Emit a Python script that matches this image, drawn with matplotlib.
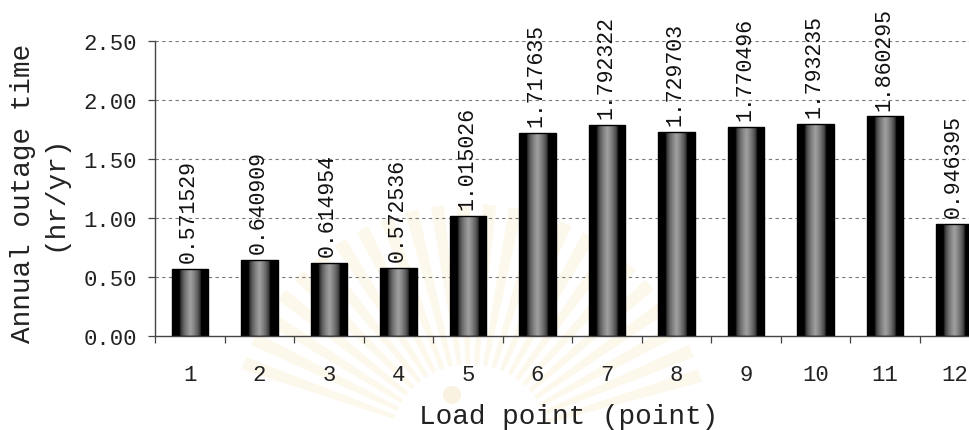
import numpy as np
import matplotlib
matplotlib.use("Agg")
import matplotlib.pyplot as plt
from matplotlib.patches import Wedge, Circle

# Annual outage time per load point
load_points = ["1", "2", "3", "4", "5", "6", "7", "8", "9", "10", "11", "12"]
outage_time = [0.571529, 0.640909, 0.614954, 0.572536, 1.015026, 1.717635,
               1.792322, 1.729703, 1.770496, 1.793235, 1.860295, 0.946395]
y_ticks = [0.0, 0.5, 1.0, 1.5, 2.0, 2.5]

mono = "Liberation Mono"
plt.rcParams["font.family"] = [mono, "DejaVu Sans Mono"]

W, H = 969, 431
fig = plt.figure(figsize=(W / 100, H / 100), dpi=100)
fig.patch.set_facecolor("white")

# faint emblem printed on the page, behind the chart
bg = fig.add_axes([0, 0, 1, 1], zorder=-10)
bg.set_xlim(0, W)
bg.set_ylim(0, H)
bg.axis("off")
cx, cy = 470, H - 445
n_rays = 24
for i in range(n_rays):
    th1 = 15 + i * (150 / n_rays)
    th2 = th1 + (150 / n_rays) * 0.5
    bg.add_patch(Wedge((cx, cy), 240, th1, th2, width=160,
                       facecolor="#fdf8ec", edgecolor="none"))
bg.add_patch(Circle((452, H - 396), 9, facecolor="#faf2e0", edgecolor="none"))

ax_left, ax_bottom = 155.25, 94
ax_w, ax_h = 12 * 69.5, 295
ax = fig.add_axes([ax_left / W, ax_bottom / H, ax_w / W, ax_h / H])
ax.set_facecolor("none")
ax.set_xlim(0.5, 12.5)
ax.set_ylim(0, 2.5)

x = np.arange(1, len(outage_time) + 1)
bars = ax.bar(x, outage_time, width=0.52, color="none", edgecolor="black",
              linewidth=1.0, zorder=3)

# cylindrical shading inside each bar
u = np.linspace(0, 1, 200)
t = np.abs(u - 0.5) / 0.5
shade = 0.63 * np.clip(1 - t / 0.58, 0, 1) ** 0.5
grad = np.tile(shade, (2, 1))
for b in bars:
    x0, y0 = b.get_x(), b.get_y()
    im = ax.imshow(grad, cmap="gray", vmin=0, vmax=1, aspect="auto",
                   extent=[x0, x0 + b.get_width(), y0, y0 + b.get_height()],
                   interpolation="bilinear", zorder=2)
    im.set_clip_path(b)

for xi, v in zip(x, outage_time):
    ax.annotate(f"{v:.6f}", (xi, v), xytext=(-1, 5), textcoords="offset points",
                rotation=90, ha="center", va="bottom", fontsize=15.5,
                family=mono, color="#111111", zorder=4, annotation_clip=False)

# grid
for yv in y_ticks[1:]:
    ax.axhline(yv, color="#7a7a7a", linewidth=0.8, linestyle=(0, (3, 3)), zorder=1)

for s in ["top", "right"]:
    ax.spines[s].set_visible(False)
for s in ["left", "bottom"]:
    ax.spines[s].set_color("#444444")
    ax.spines[s].set_linewidth(1.0)

ax.set_yticks(y_ticks)
ax.set_yticklabels([f"{v:.2f}" for v in y_ticks], fontsize=16, color="#222222")
ax.tick_params(axis="y", direction="out", length=5, width=0.9, pad=8, color="#444444")

ax.set_xticks(np.arange(0.5, 13.0, 1.0))
ax.set_xticklabels([])
ax.tick_params(axis="x", which="major", direction="out", length=5, width=0.9,
               color="#444444")
ax.set_xticks(x, minor=True)
ax.set_xticklabels(load_points, minor=True, fontsize=16, color="#222222")
ax.tick_params(axis="x", which="minor", length=0, pad=20)

fig.text(39 / W, 1 - 193 / H, "Annual outage time\n(hr/yr)", rotation=90,
         ha="center", va="center", fontsize=20, family=mono, color="#222222",
         linespacing=1.25, multialignment="center")
fig.text(569 / W, 1 - 417 / H, "Load point (point)", ha="center", va="center",
         fontsize=20, family=mono, color="#222222")

fig.savefig("out.png", dpi=100)
